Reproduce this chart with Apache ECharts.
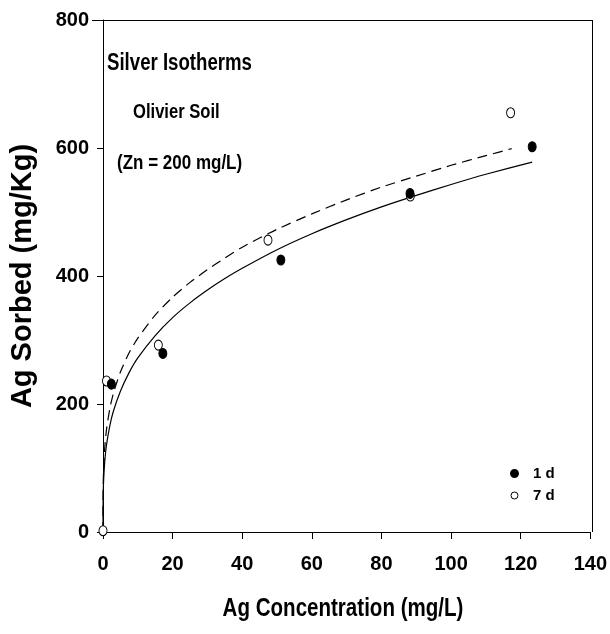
<!DOCTYPE html>
<html>
<head>
<meta charset="utf-8">
<script src="https://cdn.jsdelivr.net/npm/echarts@6/dist/echarts.min.js"></script>
<style>
  html, body { margin: 0; padding: 0; background: #fff; }
  #chart { width: 610px; height: 634px; }
</style>
</head>
<body>
<div id="chart"></div>
<script>
// ---- data ----
var xTicks = [0, 20, 40, 60, 80, 100, 120, 140];
var yTicks = [0, 200, 400, 600, 800];

// measured points: [Ag concentration mg/L, Ag sorbed mg/Kg]
var day1Points = [[2.4, 231], [17.2, 279], [51.1, 425], [88.2, 529], [123.3, 602]];
var day7Points = [[0, 2], [1.0, 236], [15.9, 292], [47.4, 456], [88.3, 525], [117.1, 655]];

// fitted curves (solid = 1 d, dashed = 7 d)
var day1Fit = [[0, 0], [0.002, 21], [0.01, 34], [0.05, 55], [0.15, 77], [0.5, 110], [1, 136],
  [2, 167], [3, 189], [5, 220], [7.5, 249], [10, 272], [15, 307], [20, 335], [25, 358],
  [30, 378], [35, 396], [40, 412], [50, 441], [60, 466], [70, 488], [80, 508], [90, 526],
  [100, 543], [110, 559], [123.3, 578]];
var day7Fit = [[0, 0], [0.002, 29], [0.01, 45], [0.05, 70], [0.15, 95], [0.5, 132], [1, 160],
  [2, 194], [3, 217], [5, 250], [7.5, 280], [10, 303], [15, 339], [20, 367], [25, 390],
  [30, 410], [35, 428], [40, 445], [50, 473], [60, 497], [70, 519], [80, 539], [90, 556],
  [100, 573], [110, 588], [117.4, 599]];

var seriesNames = ['1 d', '7 d'];
var titleLines = ['Silver Isotherms', 'Olivier Soil', '(Zn = 200 mg/L)'];
var xAxisTitle = 'Ag Concentration (mg/L)';
var yAxisTitle = 'Ag Sorbed (mg/Kg)';

var FONT = "'Liberation Sans', Arial, sans-serif";

function narrowText(txt, x, y, size, sx, align) {
  return {
    type: 'text', x: x, y: y, scaleX: sx, scaleY: 1, silent: true,
    style: { text: txt, fill: '#000', font: 'bold ' + size + 'px ' + FONT,
      align: align || 'left', verticalAlign: 'middle' }
  };
}

var chart = echarts.init(document.getElementById('chart'));
var option = {
  backgroundColor: '#ffffff',
  animation: false,
  grid: { left: 92, right: 18, top: 20, bottom: 102, show: false },
  xAxis: {
    type: 'value', min: xTicks[0], max: xTicks[xTicks.length - 1], interval: 20,
    axisLine: { show: true, onZero: false, lineStyle: { color: '#000', width: 1 } },
    axisTick: { show: true, length: 7, lineStyle: { color: '#000' } },
    axisLabel: { color: '#000', fontFamily: FONT, fontWeight: 'bold', fontSize: 20, margin: 22 },
    splitLine: { show: false }
  },
  yAxis: {
    type: 'value', min: yTicks[0], max: yTicks[yTicks.length - 1], interval: 200,
    axisLine: { show: true, onZero: false, lineStyle: { color: '#000', width: 1 } },
    axisTick: { show: true, length: 6, lineStyle: { color: '#000' } },
    axisLabel: { color: '#000', fontFamily: FONT, fontWeight: 'bold', fontSize: 20, margin: 14 },
    splitLine: { show: false },
    name: yAxisTitle, nameLocation: 'middle', nameGap: 66, nameRotate: 90,
    nameTextStyle: { color: '#000', fontFamily: FONT, fontWeight: 'bold', fontSize: 29 }
  },
  legend: {
    data: [
      { name: seriesNames[0], icon: 'circle', itemStyle: { color: '#000', borderColor: '#000' } },
      { name: seriesNames[1], icon: 'circle', itemStyle: { color: '#fff', borderColor: '#000', borderWidth: 1 } }
    ],
    orient: 'vertical', left: 505, top: 461, itemWidth: 7, itemHeight: 9, itemGap: 7,
    textStyle: { color: '#000', fontFamily: FONT, fontWeight: 'bold', fontSize: 15, padding: [0, 0, 0, 10] }
  },
  graphic: [
    narrowText(titleLines[0], 107, 64, 23, 0.81),
    narrowText(titleLines[1], 133, 112.5, 20, 0.83),
    narrowText(titleLines[2], 117, 163, 20, 0.85),
    narrowText(xAxisTitle, 343, 609, 26, 0.79, 'center'),
    // frame: top and right borders
    { type: 'line', shape: { x1: 92, y1: 20.5, x2: 592.5, y2: 20.5 }, style: { stroke: '#000', lineWidth: 1 } },
    { type: 'line', shape: { x1: 592.5, y1: 20, x2: 592.5, y2: 532 }, style: { stroke: '#000', lineWidth: 1 } }
  ],
  series: [
    {
      name: 'fit1', type: 'line', data: day1Fit, showSymbol: false, smooth: 0.2,
      lineStyle: { color: '#000', width: 1.2 }, silent: true, z: 2
    },
    {
      name: 'fit7', type: 'line', data: day7Fit, showSymbol: false, smooth: 0.2,
      lineStyle: { color: '#000', width: 1.2, type: [10, 6] }, silent: true, z: 2
    },
    {
      name: seriesNames[1], type: 'scatter', data: day7Points, symbol: 'circle', symbolSize: [8, 10],
      itemStyle: { color: '#fff', borderColor: '#000', borderWidth: 1, opacity: 1 }, z: 3
    },
    {
      name: seriesNames[0], type: 'scatter', data: day1Points, symbol: 'circle', symbolSize: [8, 10],
      itemStyle: { color: '#000', borderColor: '#000', borderWidth: 1, opacity: 1 }, z: 4
    }
  ]
};
chart.setOption(option);
</script>
</body>
</html>
